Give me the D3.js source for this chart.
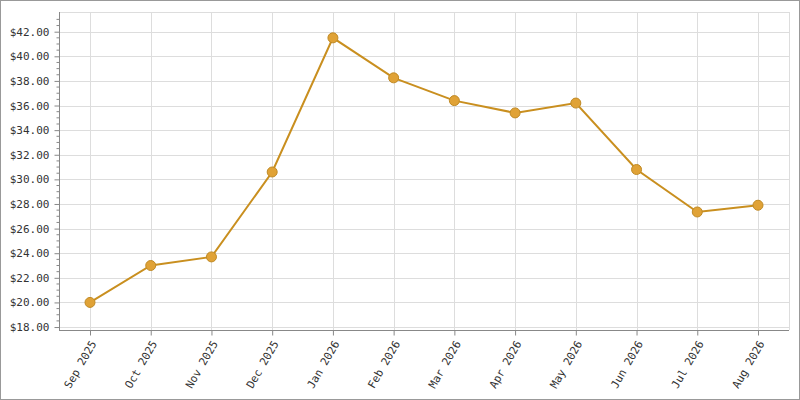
<!DOCTYPE html>
<html><head><meta charset="utf-8">
<script src="https://cdn.jsdelivr.net/npm/d3@7"></script>
<style>body{margin:0}svg{display:block}</style></head>
<body><svg width="800" height="400"></svg>
<script>
const months = ["Sep 2025","Oct 2025","Nov 2025","Dec 2025","Jan 2026","Feb 2026","Mar 2026","Apr 2026","May 2026","Jun 2026","Jul 2026","Aug 2026"];
const prices = [20.0,23.0,23.7,30.6,41.5,38.25,36.4,35.4,36.2,30.8,27.35,27.9];
const yTicks = [18,20,22,24,26,28,30,32,34,36,38,40,42];

const svg = d3.select("svg");
svg.append("rect").attr("x",0.5).attr("y",0.5).attr("width",799).attr("height",399)
  .attr("fill","#fff").attr("stroke","#999");
const L=59,R=789,T=12,B=330;
const x = d3.scalePoint().domain(months).range([90,758]);
const y = d3.scaleLinear().domain([17.76,43.6]).range([B,T]);
const font="DejaVu Sans Mono";

const g = svg.append("g");
// grid
g.selectAll(".hg").data(yTicks).join("line").attr("x1",L).attr("x2",R)
  .attr("y1",d=>Math.round(y(d))+0.5).attr("y2",d=>Math.round(y(d))+0.5).attr("stroke","#ddd");
g.selectAll(".vg").data(months).join("line").attr("y1",T).attr("y2",B)
  .attr("x1",d=>Math.round(x(d))+0.5).attr("x2",d=>Math.round(x(d))+0.5).attr("stroke","#ddd");
g.append("line").attr("x1",R+0.5).attr("x2",R+0.5).attr("y1",T).attr("y2",B).attr("stroke","#ddd");
g.append("line").attr("x1",L).attr("x2",R).attr("y1",T+0.5).attr("y2",T+0.5).attr("stroke","#ddd");

// y axis
const ya = svg.append("g").attr("transform",`translate(${L+0.5},0)`)
  .call(d3.axisLeft(y).tickValues(yTicks).tickSize(5).tickFormat(d=>"$"+d.toFixed(2)));
const minor = d3.range(18,43.5,0.5).filter(v=>v%2!==0);
ya.selectAll(".mn").data(minor).join("line").attr("x1",0).attr("x2",-3)
  .attr("y1",d=>y(d)).attr("y2",d=>y(d)).attr("stroke","#888");
ya.select(".domain").attr("stroke","#888").attr("d",`M0,${T}V${B}`);
ya.selectAll(".tick line").attr("stroke","#888");
ya.selectAll("text").attr("font-family",font).attr("font-size",11).attr("fill","#333").attr("x",-10);

// x axis
const xa = svg.append("g").attr("transform",`translate(0,${B+0.5})`)
  .call(d3.axisBottom(x).tickSize(5));
xa.select(".domain").attr("stroke","#888").attr("d",`M${L},0H${R}`);
xa.selectAll(".tick line").attr("stroke","#888");
xa.selectAll("text").attr("font-family",font).attr("font-size",11).attr("fill","#333")
  .attr("text-anchor","end").attr("dy","0.35em")
  .attr("transform","translate(3,11) rotate(-60)").attr("x",0).attr("y",0);

// line
const data = months.map((m,i)=>({m,v:prices[i]}));
svg.append("path").datum(data).attr("fill","none").attr("stroke","#c98f1f").attr("stroke-width",2)
  .attr("d",d3.line().x(d=>x(d.m)).y(d=>y(d.v)));
svg.selectAll(".pt").data(data).join("circle").attr("cx",d=>x(d.m)).attr("cy",d=>y(d.v))
  .attr("r",5).attr("fill","#e0a236").attr("stroke","#c08a25").attr("stroke-width",1);
</script></body></html>
